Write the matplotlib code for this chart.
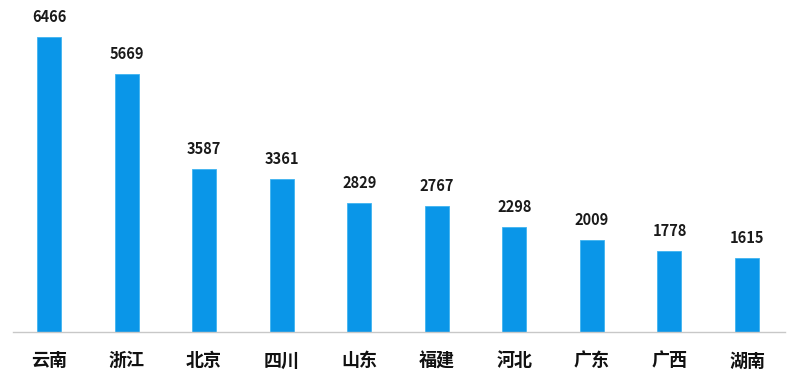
import matplotlib
matplotlib.use("Agg")
import matplotlib.pyplot as plt

plt.rcParams['font.family'] = ['Noto Sans CJK SC', 'DejaVu Sans']

provinces = ["云南", "浙江", "北京", "四川", "山东", "福建", "河北", "广东", "广西", "湖南"]
counts = [6466, 5669, 3587, 3361, 2829, 2767, 2298, 2009, 1778, 1615]

fig = plt.figure(figsize=(8, 3.77), dpi=100)
ax = fig.add_axes([0.01625, 0.1194, 0.965, 0.846])

x = range(len(provinces))
bars = ax.bar(x, counts, width=0.31, color='#0a96e8', edgecolor='#3fb4f0', linewidth=0.6)

for i, v in enumerate(counts):
    ax.text(i, v + 440, str(v), ha='center', va='center', fontsize=10.5, fontweight='bold', color='#1a1a1a')

ax.set_xlim(-0.464, 9.49)
ax.set_ylim(0, 7000)
ax.set_xticks(list(x))
ax.set_xticklabels(provinces, fontsize=13, fontweight='bold', color='#111111')
ax.tick_params(axis='x', length=0, pad=14)
ax.set_yticks([])
for s in ['top', 'right', 'left']:
    ax.spines[s].set_visible(False)
ax.spines['bottom'].set_color('#c8c8c8')
ax.spines['bottom'].set_linewidth(1)

fig.savefig("out.png", dpi=100)
